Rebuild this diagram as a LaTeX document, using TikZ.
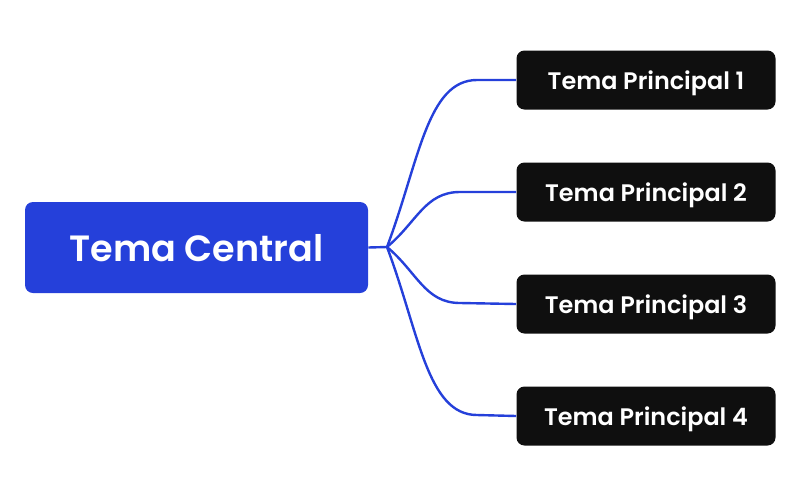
\documentclass[tikz,border=0pt]{standalone}
\usepackage{fontspec}
\setmainfont{Poppins}[UprightFont={* SemiBold}]
\usepackage{tikz}
\usetikzlibrary{positioning}
\definecolor{CentralBlue}{HTML}{2540DA}
\definecolor{TopicBlack}{HTML}{0F0F0F}
% one unit is one pixel of the reference
\newcommand{\unitpx}{0.025cm}
\newcommand{\centralw}{343}
\newcommand{\centralh}{91}
\newcommand{\topicw}{259}
\newcommand{\topich}{59}
\tikzset{
  central/.style={fill=CentralBlue, text=white, rounded corners=8*\unitpx,
    minimum width=\centralw*\unitpx, minimum height=\centralh*\unitpx,
    inner sep=0pt, text depth=0pt, font=\fontsize{26}{30}\selectfont},
  topic/.style={fill=TopicBlack, text=white, rounded corners=8*\unitpx,
    minimum width=\topicw*\unitpx, minimum height=\topich*\unitpx,
    inner sep=0pt, text depth=0pt, font=\fontsize{17}{20}\selectfont},
  branch/.style={draw=CentralBlue, line width=2.4*\unitpx}
}

\begin{document}
\begin{tikzpicture}[x=\unitpx,y=-\unitpx]
    \useasboundingbox (0,0) rectangle (800,495);
    % central topic
    \node[central] (central) at (196.5,247.5) {Tema Central};
    % main topics
    \node[topic] (t1) at (646,80) {Tema Principal 1};
    \node[topic] (t2) at (646,192) {Tema Principal 2};
    \node[topic] (t3) at (646,304) {Tema Principal 3};
    \node[topic] (t4) at (646,416) {Tema Principal 4};

    % branches
    \coordinate (hub) at (387,247);
    \coordinate (bend1) at (477,80);
    \coordinate (bend2) at (460,192);
    \coordinate (bend3) at (460,303);
    \coordinate (bend4) at (477,415);
    \draw[branch] (central.east) -- (hub);
    \draw[branch] (hub) .. controls +(32,-85) and +(-50,0) .. (bend1) -- (t1.west);
    \draw[branch] (hub) .. controls +(30,-25) and +(-35,0) .. (bend2) -- (t2.west);
    \draw[branch] (hub) .. controls +(30,25) and +(-35,0) .. (bend3) -- (t3.west);
    \draw[branch] (hub) .. controls +(32,85) and +(-50,0) .. (bend4) -- (t4.west);
\end{tikzpicture}
\end{document}
